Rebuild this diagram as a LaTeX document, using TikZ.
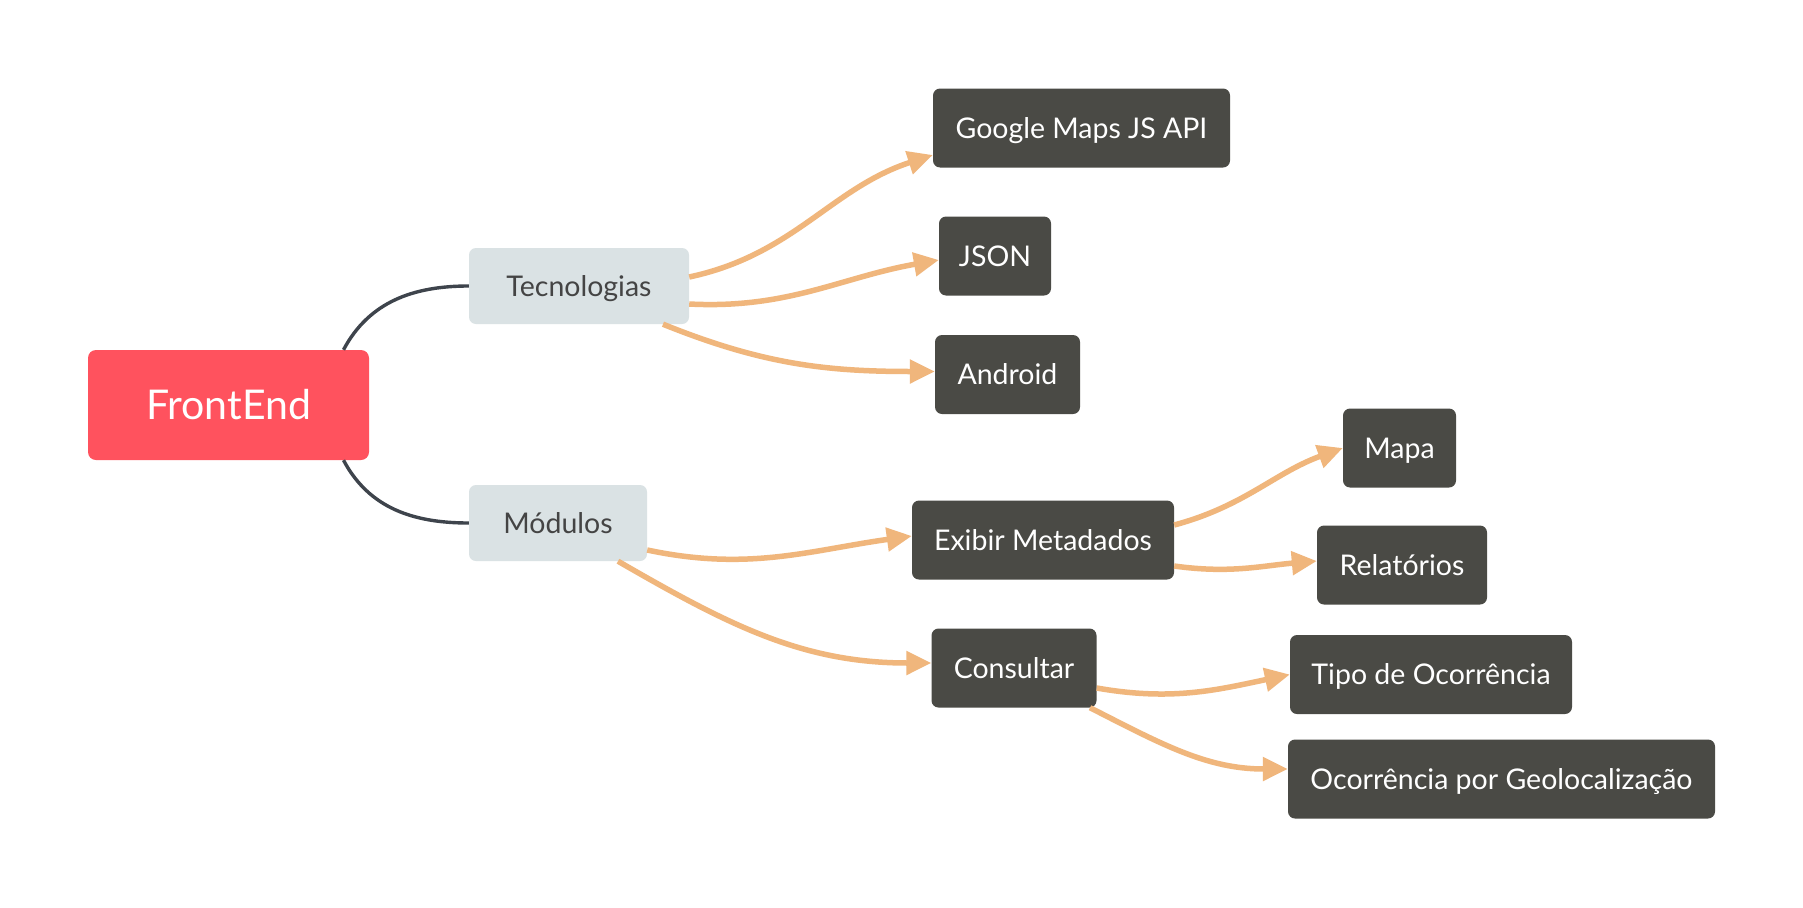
\documentclass[tikz,border=0pt]{standalone}
\usepackage{fontspec}
\setmainfont{Lato}
\usetikzlibrary{arrows.meta}
\definecolor{fered}{RGB}{255,82,94}
\definecolor{subfill}{RGB}{218,226,228}
\definecolor{subtext}{RGB}{68,68,68}
\definecolor{leaf}{RGB}{74,74,69}
\definecolor{orangeline}{RGB}{240,182,124}
\definecolor{darkline}{RGB}{62,68,76}
\begin{document}
\begin{tikzpicture}[x=1pt,y=1pt,
 rootbox/.style={fill=fered, rounded corners=8pt, text=white, font=\fontsize{41}{48}\selectfont, minimum width=281pt, minimum height=110pt, inner sep=0pt, text height=29.3pt, text depth=0pt},
 subbox/.style={fill=subfill, rounded corners=7pt, text=subtext, font=\fontsize{28.5}{34}\selectfont, minimum height=76pt, inner sep=0pt, text height=20.4pt, text depth=0pt},
 leafbox/.style={fill=leaf, rounded corners=7pt, text=white, font=\fontsize{28.5}{34}\selectfont, minimum height=79pt, inner sep=0pt, text height=20.4pt, text depth=0pt},
 branch/.style={draw=darkline, line width=3.4pt},
 link/.style={draw=orangeline, line width=5.5pt, -{Triangle[length=25pt,width=23pt]}},
]
\useasboundingbox[fill=white] (0,0) rectangle (1803,-907);

\node[rootbox] (root) at (228.5,-405) {FrontEnd};
\node[subbox, minimum width=220pt] (tec) at (579,-286) {Tecnologias};
\node[subbox, minimum width=178pt] (mod) at (558,-523) {Módulos};

\node[leafbox, minimum width=297pt] (gmaps) at (1081.5,-128) {Google Maps JS API};
\node[leafbox, minimum width=112pt] (json) at (995,-256) {JSON};
\node[leafbox, minimum width=145pt] (android) at (1007.5,-374.5) {Android};
\node[leafbox, minimum width=262pt] (exibir) at (1043,-540) {Exibir Metadados};
\node[leafbox, minimum width=165pt] (consultar) at (1014,-668) {Consultar};
\node[leafbox, minimum width=113pt] (mapa) at (1399.5,-448) {Mapa};
\node[leafbox, minimum width=170pt] (relat) at (1402,-565) {Relatórios};
\node[leafbox, minimum width=282pt] (tipo) at (1431,-674.5) {Tipo de Ocorrência};
\node[leafbox, minimum width=427pt] (geo) at (1501.5,-779) {Ocorrência por Geolocalização};

% dark branches
\draw[branch] ([xshift=115pt]root.north) to[out=62,in=180] (tec.west);
\draw[branch] ([xshift=115pt]root.south) to[out=-62,in=180] (mod.west);

% orange links
\draw[link] ([yshift=9pt]tec.east) to[out=12,in=198] ([yshift=-27pt]gmaps.west);
\draw[link] ([yshift=-18pt]tec.east) to[out=-3,in=190] ([yshift=-4pt]json.west);
\draw[link] ([xshift=84pt]tec.south) to[out=-22,in=180] ([yshift=3pt]android.west);

\draw[link] ([yshift=-27pt]mod.east) to[out=-12,in=188] ([yshift=4pt]exibir.west);
\draw[link] ([xshift=60pt]mod.south) to[out=-30,in=180] ([yshift=5pt]consultar.west);

\draw[link] ([yshift=15pt]exibir.east) to[out=15,in=200] (mapa.west);
\draw[link] ([yshift=-26pt]exibir.east) to[out=-8,in=185] ([yshift=4pt]relat.west);

\draw[link] ([yshift=-20pt]consultar.east) to[out=-10,in=192] (tipo.west);
\draw[link] ([xshift=76pt]consultar.south) to[out=-27,in=180] ([yshift=10pt]geo.west);
\end{tikzpicture}
\end{document}
